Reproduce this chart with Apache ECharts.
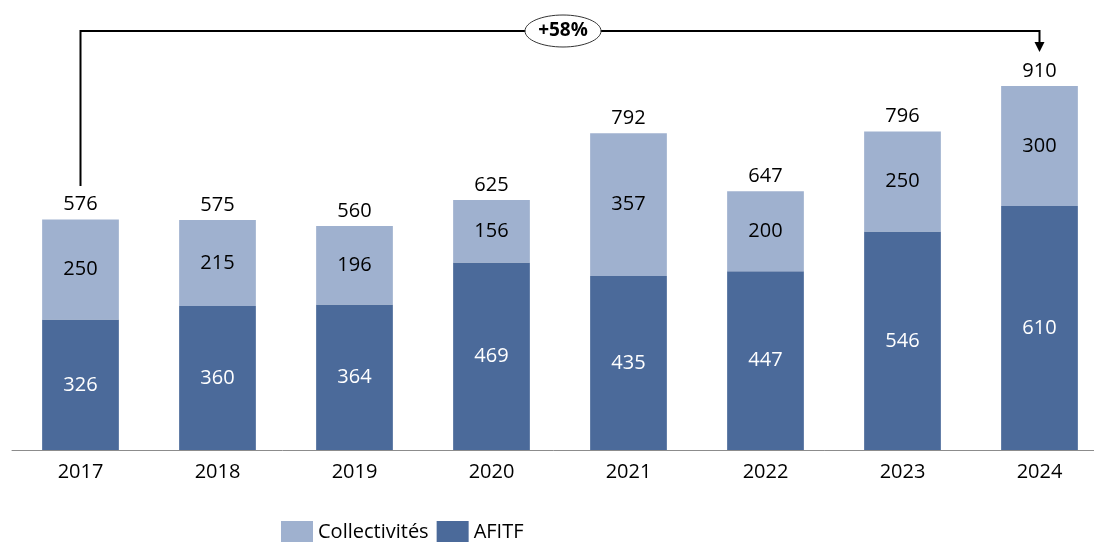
<!DOCTYPE html>
<html>
<head>
<meta charset="utf-8">
<script src="https://cdn.jsdelivr.net/npm/echarts@6/dist/echarts.min.js"></script>
<style>
  html, body { margin: 0; padding: 0; background: #fff; }
  #chart { width: 1094px; height: 542px; }
</style>
</head>
<body>
<div id="chart"></div>
<script>
var years = ['2017', '2018', '2019', '2020', '2021', '2022', '2023', '2024'];
var afitf = [326, 360, 364, 469, 435, 447, 546, 610];
var collectivites = [250, 215, 196, 156, 357, 200, 250, 300];
var totals = [576, 575, 560, 625, 792, 647, 796, 910];
var growthLabel = '+58%';

var fontFam = '"Open Sans", "Noto Sans", sans-serif';
var chart = echarts.init(document.getElementById('chart'));

var option = {
  animation: false,
  textStyle: { fontFamily: fontFam },
  color: ['#9FB1CF', '#4B6A9A'],
  grid: {
    left: 12,
    width: 1096,
    top: 50,
    bottom: 92,
    outerBoundsMode: 'none',
    containLabel: false
  },
  legend: {
    data: ['Collectivités', 'AFITF'],
    left: 276,
    top: 516,
    itemWidth: 32,
    itemHeight: 22,
    itemGap: 8,
    icon: 'rect',
    textStyle: { fontSize: 20, color: '#000', fontFamily: fontFam }
  },
  xAxis: {
    type: 'category',
    data: years,
    axisTick: { show: false },
    axisLine: { lineStyle: { color: '#8c8c8c', width: 1 } },
    axisLabel: { fontSize: 20, color: '#000', margin: 12, fontFamily: fontFam }
  },
  yAxis: {
    type: 'value',
    min: 0,
    max: 1000,
    show: false,
    splitLine: { show: false }
  },
  series: [
    {
      name: 'AFITF',
      type: 'bar',
      stack: 'total',
      barWidth: '56%',
      data: afitf,
      itemStyle: { color: '#4B6A9A' },
      label: { show: true, position: 'inside', color: '#fff', fontSize: 20, fontFamily: fontFam }
    },
    {
      name: 'Collectivités',
      type: 'bar',
      stack: 'total',
      data: collectivites,
      itemStyle: { color: '#9FB1CF' },
      label: { show: true, position: 'inside', color: '#000', fontSize: 20, fontFamily: fontFam }
    },
    {
      name: 'Total',
      type: 'bar',
      barWidth: '56%',
      barGap: '-100%',
      z: 1,
      data: totals,
      itemStyle: { color: 'rgba(0,0,0,0)' },
      label: { show: true, position: 'top', distance: 5, color: '#000', fontSize: 20, fontFamily: fontFam }
    }
  ]
};
chart.setOption(option);

// flèche +58% entre 2017 et 2024
var pStart = chart.convertToPixel({ gridIndex: 0 }, [years[0], 660]);
var pEnd = chart.convertToPixel({ gridIndex: 0 }, [years[years.length - 1], 995]);
var yTop = 31;
var midX = (pStart[0] + pEnd[0]) / 2 + 3;

chart.setOption({
  graphic: [
    {
      type: 'polyline',
      shape: { points: [[pStart[0], pStart[1]], [pStart[0], yTop], [pEnd[0], yTop], [pEnd[0], pEnd[1] - 8]] },
      style: { stroke: '#000', lineWidth: 2, fill: null },
      z: 10
    },
    {
      type: 'polygon',
      shape: { points: [[pEnd[0] - 5, pEnd[1] - 10], [pEnd[0] + 5, pEnd[1] - 10], [pEnd[0], pEnd[1]]] },
      style: { fill: '#000' },
      z: 10
    },
    {
      type: 'ellipse',
      shape: { cx: midX, cy: yTop, rx: 38, ry: 16 },
      style: { fill: '#fff', stroke: '#333', lineWidth: 1 },
      z: 11
    },
    {
      type: 'text',
      x: midX,
      y: yTop,
      style: {
        text: growthLabel,
        fontSize: 19,
        fontWeight: 'bold',
        fontFamily: fontFam,
        fill: '#000',
        align: 'center',
        verticalAlign: 'middle'
      },
      z: 12
    }
  ]
});
</script>
</body>
</html>
